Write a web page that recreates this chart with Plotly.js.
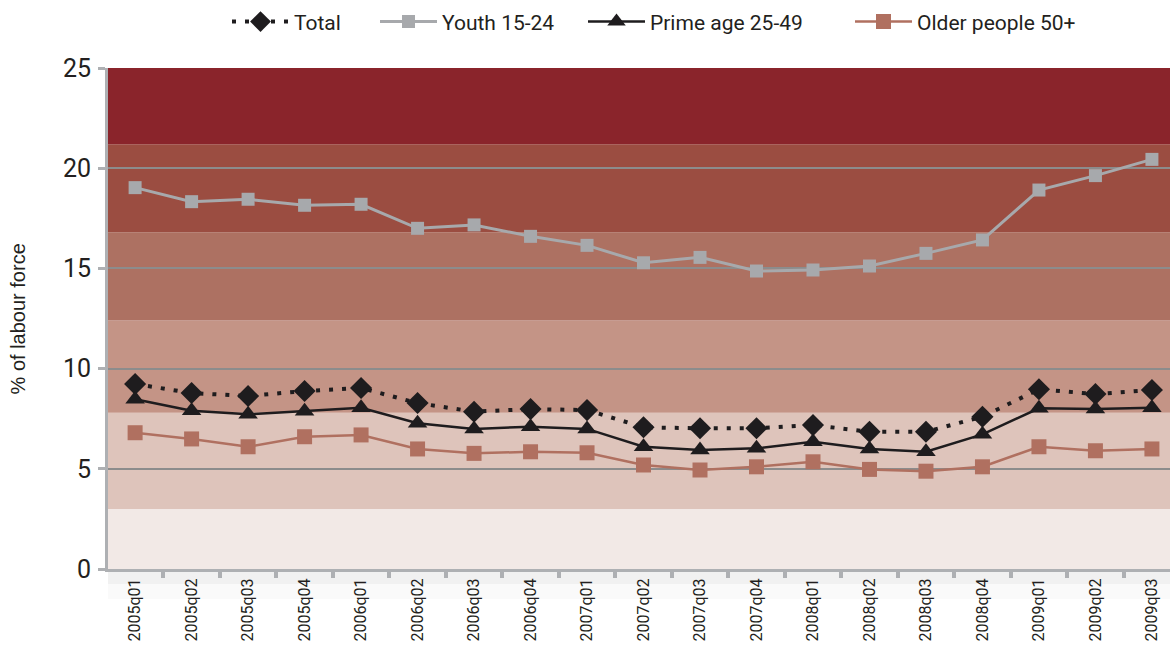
<!DOCTYPE html>
<html>
<head>
<meta charset="utf-8">
<script src="https://cdn.plot.ly/plotly-3.0.1.min.js"></script>
<style>html,body{margin:0;padding:0;background:#fff;}#chart{width:1170px;height:646px;}</style>
</head>
<body>
<div id="chart"></div>
<script>
const quarters = ["2005q01","2005q02","2005q03","2005q04","2006q01","2006q02","2006q03","2006q04","2007q01","2007q02","2007q03","2007q04","2008q01","2008q02","2008q03","2008q04","2009q01","2009q02","2009q03"];
const total = [9.23,8.78,8.63,8.88,9.03,8.28,7.85,7.98,7.93,7.07,7.02,7.02,7.18,6.85,6.85,7.6,8.97,8.73,8.93];
const youth = [19.03,18.33,18.45,18.15,18.2,17.0,17.17,16.6,16.15,15.28,15.55,14.87,14.92,15.12,15.75,16.42,18.91,19.63,20.44];
const prime = [8.47,7.9,7.72,7.87,8.05,7.27,6.99,7.1,6.99,6.1,5.94,6.02,6.35,5.99,5.85,6.72,8.02,7.98,8.05];
const older = [6.8,6.49,6.1,6.6,6.69,5.99,5.77,5.85,5.8,5.19,4.94,5.1,5.35,4.97,4.88,5.1,6.1,5.9,5.99];
const seriesNames = ["Total","Youth 15-24","Prime age 25-49","Older people 50+"];
const yTicks = [0,5,10,15,20,25];
const bandEdges = [0,3,7.8,12.4,16.8,21.2,25];
const bandColors = ["#f2e9e6","#dec4bb","#c49486","#ad7162","#9b4d41","#8a242b"];

const shapes = [];
for (let i = 0; i < bandColors.length; i++) {
  shapes.push({type:"rect", xref:"paper", yref:"y", x0:0, x1:1, y0:bandEdges[i], y1:bandEdges[i+1],
    fillcolor:bandColors[i], line:{width:0}, layer:"below"});
}
shapes.push({type:"rect", xref:"paper", yref:"paper", x0:0, x1:1, y0:-0.004, y1:-0.03, fillcolor:"rgba(0,0,0,0.035)", line:{width:0}, layer:"below"});
shapes.push({type:"rect", xref:"paper", yref:"paper", x0:0, x1:1, y0:-0.004, y1:-0.06, fillcolor:"rgba(0,0,0,0.02)", line:{width:0}, layer:"below"});

const traces = [
  {x:quarters, y:total, name:seriesNames[0], type:"scatter", mode:"lines+markers", legend:"legend",
   line:{color:"#1e1c1e", width:4, dash:"4px,9px"}, marker:{symbol:"diamond", size:17, color:"#1e1c1e"}},
  {x:quarters, y:youth, name:seriesNames[1], type:"scatter", mode:"lines+markers", legend:"legend2",
   line:{color:"#a7a9ac", width:3}, marker:{symbol:"square", size:13, color:"#a7a9ac"}},
  {x:quarters, y:prime, name:seriesNames[2], type:"scatter", mode:"lines+markers", legend:"legend3",
   line:{color:"#1e1c1e", width:2.5}, marker:{symbol:"triangle-up", size:17, color:"#1e1c1e"}},
  {x:quarters, y:older, name:seriesNames[3], type:"scatter", mode:"lines+markers", legend:"legend4",
   line:{color:"#b07060", width:2.5}, marker:{symbol:"square", size:15, color:"#b07060"}}
];

function leg(px) {
  return {orientation:"h", x:(px-108)/1062, xanchor:"left", y:1.092, yanchor:"middle",
    font:{size:21, color:"#231f20", family:"Roboto, sans-serif"}, bgcolor:"rgba(0,0,0,0)", itemwidth:57};
}

const layout = {
  width:1170, height:646,
  margin:{l:108, r:0, t:68, b:77},
  paper_bgcolor:"#ffffff", plot_bgcolor:"rgba(0,0,0,0)",
  font:{family:"Roboto, 'DejaVu Sans', sans-serif", color:"#231f20"},
  showlegend:true,
  legend:leg(227), legend2:leg(375), legend3:leg(583), legend4:leg(850),
  xaxis:{type:"category", range:[-0.48, 18.32], showgrid:false, tickson:"boundaries",
    ticks:"outside", ticklen:6, tickwidth:4, tickcolor:"#aeb0b3",
    showline:true, linecolor:"#aeb0b3", linewidth:3, tickangle:-90,
    tickfont:{size:16, color:"#231f20"}, fixedrange:true, zeroline:false},
  yaxis:{range:[0,25], tickvals:yTicks, ticktext:yTicks.map(String), showgrid:true,
    gridcolor:"#8c8c8c", gridwidth:2, zeroline:false,
    ticks:"outside", ticklen:7, tickwidth:3, tickcolor:"#aeb0b3",
    showline:true, linecolor:"#aeb0b3", linewidth:3,
    tickfont:{size:25, color:"#231f20"}, ticklabelstandoff:2, fixedrange:true},
  shapes:shapes,
  annotations:[{text:"% of labour force", xref:"paper", yref:"paper", x:-0.0848, y:0.5,
    xanchor:"center", yanchor:"middle", textangle:-90, showarrow:false,
    font:{size:20, color:"#231f20", family:"'Liberation Sans', Arial, sans-serif"}}]
};

Plotly.newPlot("chart", traces, layout, {displayModeBar:false, staticPlot:true});
</script>
</body>
</html>
